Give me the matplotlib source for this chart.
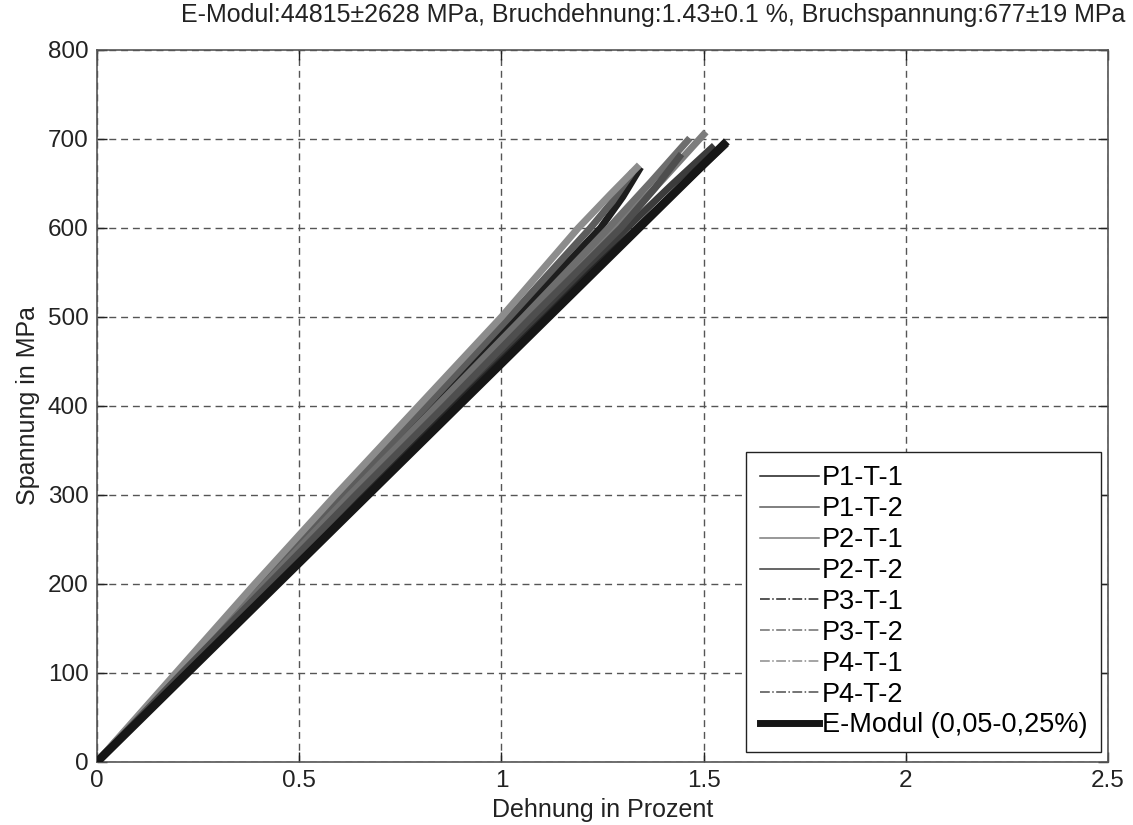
import matplotlib
matplotlib.use("Agg")
import matplotlib.pyplot as plt
from matplotlib.lines import Line2D

plt.rcParams['font.family'] = ['Liberation Sans', 'DejaVu Sans']

# Dehnung in % / Spannung in MPa (noise left out)
strain_p1_t1 = [0, 0.205, 0.41, 0.615, 0.825, 1.035, 1.14, 1.245, 1.30, 1.34]
stress_p1_t1 = [0, 100, 200, 300, 400, 500, 550, 600, 635, 665]
strain_p1_t2 = [0, 0.20, 0.40, 0.605, 0.815, 1.02, 1.12, 1.22, 1.275, 1.32]
stress_p1_t2 = [0, 100, 200, 300, 400, 500, 550, 600, 630, 660]
strain_p2_t1 = [0, 0.21, 0.42, 0.635, 0.85, 1.065, 1.175, 1.285, 1.40, 1.50]
stress_p2_t1 = [0, 100, 200, 300, 400, 500, 550, 600, 655, 705]
strain_p2_t2 = [0, 0.215, 0.43, 0.65, 0.87, 1.09, 1.20, 1.31, 1.42, 1.52]
stress_p2_t2 = [0, 100, 200, 300, 400, 500, 550, 600, 648, 690]
strain_p3_t1 = [0, 0.22, 0.44, 0.66, 0.885, 1.11, 1.22, 1.335, 1.44, 1.55]
stress_p3_t1 = [0, 100, 200, 300, 400, 500, 550, 600, 645, 692]
strain_p3_t2 = [0, 0.205, 0.415, 0.625, 0.84, 1.055, 1.16, 1.265, 1.37, 1.46]
stress_p3_t2 = [0, 100, 200, 300, 400, 500, 550, 600, 652, 698]
strain_p4_t1 = [0, 0.195, 0.39, 0.59, 0.795, 1.0, 1.095, 1.19, 1.27, 1.335]
stress_p4_t1 = [0, 100, 200, 300, 400, 500, 550, 600, 638, 668]
strain_p4_t2 = [0, 0.21, 0.425, 0.64, 0.86, 1.075, 1.185, 1.295, 1.38, 1.44]
stress_p4_t2 = [0, 100, 200, 300, 400, 500, 550, 600, 645, 680]

# E-Modul fit line
strain_fit = [0, 1.55]
stress_fit = [0, 694]

labels = ['P1-T-1', 'P1-T-2', 'P2-T-1', 'P2-T-2', 'P3-T-1', 'P3-T-2', 'P4-T-1', 'P4-T-2']
colors = ['#1e1e1e', '#5c5c5c', '#7c7c7c', '#3c3c3c', '#262626', '#6e6e6e', '#8c8c8c', '#4e4e4e']
styles = ['-', '-', '-', '-', '-.', '-.', '-.', '-.']
curves = [(strain_p1_t1, stress_p1_t1), (strain_p1_t2, stress_p1_t2),
          (strain_p2_t1, stress_p2_t1), (strain_p2_t2, stress_p2_t2),
          (strain_p3_t1, stress_p3_t1), (strain_p3_t2, stress_p3_t2),
          (strain_p4_t1, stress_p4_t1), (strain_p4_t2, stress_p4_t2)]

fig = plt.figure(figsize=(11.33, 8.25), dpi=100)
ax = fig.add_axes([0.0856, 0.0764, 0.8924, 0.863])

for (x, y), c in zip(curves, colors):
    # noisy measurement appears as a solid band in the original
    ax.plot(x, y, '-', color=c, linewidth=5, solid_joinstyle='round', zorder=2)
ax.plot(strain_fit, stress_fit, '-', color='#161616', linewidth=6, zorder=3)

ax.set_xlim(0, 2.5)
ax.set_ylim(0, 800)
ax.set_xticks([0, 0.5, 1, 1.5, 2, 2.5])
ax.set_xticklabels(['0', '0.5', '1', '1.5', '2', '2.5'])
ax.set_yticks(range(0, 801, 100))

ax.grid(True, color='#555555', linestyle=(0, (5, 3.5)), linewidth=1)
ax.set_axisbelow(True)
ax.tick_params(direction='in', length=7, width=1, top=True, right=True,
               labelsize=17.5, colors='#222222', pad=6)
for s in ax.spines.values():
    s.set_color('#555555')
    s.set_linewidth(1.2)

ax.set_xlabel('Dehnung in Prozent', fontsize=18, color='#222222', labelpad=4)
ax.set_ylabel('Spannung in MPa', fontsize=18, color='#222222', labelpad=6)
fig.text(0.993, 0.982,
         'E-Modul:44815±2628 MPa, Bruchdehnung:1.43±0.1 %, Bruchspannung:677±19 MPa',
         ha='right', va='center', fontsize=18, color='#222222',
         family=['Liberation Sans Narrow', 'Liberation Sans', 'DejaVu Sans'])

handles = [Line2D([], [], color=c, linestyle=ls, linewidth=1.1) for c, ls in zip(colors, styles)]
handles.append(Line2D([], [], color='#161616', linewidth=5))
leg = ax.legend(handles, labels + ['E-Modul (0,05-0,25%)'], loc='lower right',
                bbox_to_anchor=(0.993, 0.014), borderaxespad=0, fontsize=19.5,
                handlelength=2.2, handletextpad=0.1, labelspacing=0.18,
                fancybox=False, framealpha=1, borderpad=0.5)
leg.get_frame().set_edgecolor('#222222')
leg.get_frame().set_linewidth(1)

fig.savefig('out.png', dpi=100)
